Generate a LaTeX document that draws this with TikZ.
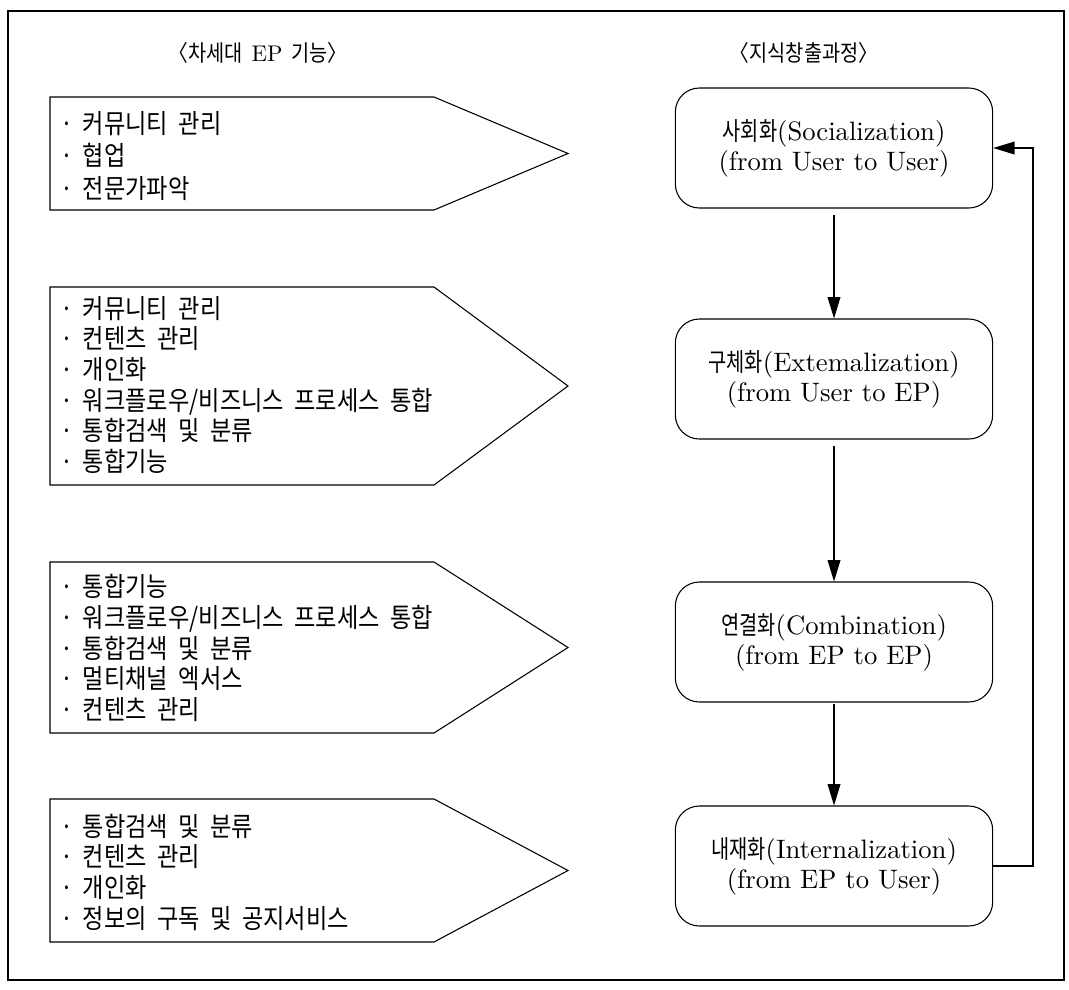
\documentclass[tikz,border=0pt]{standalone}
\usepackage{fontspec}
\usetikzlibrary{arrows.meta}
\newfontfamily\kr[FakeStretch=0.87,WordSpace=2]{Noto Sans CJK KR}
\newfontfamily\krnarrow[FakeStretch=0.78]{Noto Sans CJK KR}
\newfontfamily\lmten{lmroman10-regular}[Extension=.otf]
\newcommand{\hangul}[1]{{\krnarrow\fontsize{19}{22.5}\selectfont #1}}
\newcommand{\bul}{\makebox[17pt][l]{·}}

\begin{document}
\begin{tikzpicture}[x=0.75pt,y=-0.75pt]
    \tikzstyle{heading}=[inner sep=0pt, font=\kr\fontsize{17}{20}\selectfont]
    \tikzstyle{funclist}=[anchor=west, align=left, inner sep=0pt, font=\kr\fontsize{20}{23}\selectfont]
    \tikzstyle{pent}=[draw=black, line width=0.8pt]
    \tikzstyle{stage}=[draw=black, line width=0.8pt, rounded corners=18pt, minimum width=238pt, minimum height=90pt, align=center, font=\lmten\fontsize{20}{22.5}\selectfont]
    \tikzstyle{flow}=[-{Triangle[length=16pt,width=9.5pt]}, line width=1.1pt]

    \useasboundingbox (0,0) rectangle (1069,989);
    \draw[line width=0.9pt] (8,11) rectangle (1064,980);

    \node[heading] (lefthead) at (258,53) {〈차세대 {\lmten EP} 기능〉};
    \node[heading] (righthead) at (804,53) {〈지식창출과정〉};

    % EP functions
    \draw[pent] (50,97) -- (434,97) -- (568,153.5) -- (434,210) -- (50,210) -- cycle;
    \node[funclist, font=\kr\fontsize{20}{24.5}\selectfont] (f1) at (60,156)
        {\bul 커뮤니티 관리\\ \bul 협업\\ \bul 전문가파악};

    \draw[pent] (50,287) -- (434,287) -- (568,386) -- (434,485) -- (50,485) -- cycle;
    \node[funclist] (f2) at (60,385) {\bul 커뮤니티 관리\\ \bul 컨텐츠 관리\\ \bul 개인화\\
        \bul 워크플로우/비즈니스 프로세스 통합\\ \bul 통합검색 및 분류\\ \bul 통합기능};

    \draw[pent] (50,562) -- (434,562) -- (568,647.5) -- (434,733) -- (50,733) -- cycle;
    \node[funclist] (f3) at (60,648) {\bul 통합기능\\ \bul 워크플로우/비즈니스 프로세스 통합\\
        \bul 통합검색 및 분류\\ \bul 멀티채널 엑서스\\ \bul 컨텐츠 관리};

    \draw[pent] (50,799) -- (434,799) -- (568,870.5) -- (434,942) -- (50,942) -- cycle;
    \node[funclist] (f4) at (60,872) {\bul 통합검색 및 분류\\ \bul 컨텐츠 관리\\ \bul 개인화\\
        \bul 정보의 구독 및 공지서비스};

    % knowledge creation
    \node[stage] (soc) at (834,148) {\hangul{사회화}(Socialization)\\(from User to User)};
    \node[stage] (ext) at (834,379) {\hangul{구체화}(Extemalization)\\(from User to EP)};
    \node[stage] (comb) at (834,642) {\hangul{연결화}(Combination)\\(from EP to EP)};
    \node[stage] (intl) at (834,866) {\hangul{내재화}(Internalization)\\(from EP to User)};

    \draw[flow, shorten <=5pt] (soc) -- (ext);
    \draw[flow, shorten <=5pt] (ext) -- (comb);
    \draw[flow, shorten <=1pt] (comb) -- (intl);
    \draw[flow] (intl.east) -- ++(40,0) |- (soc.east);
\end{tikzpicture}
\end{document}
